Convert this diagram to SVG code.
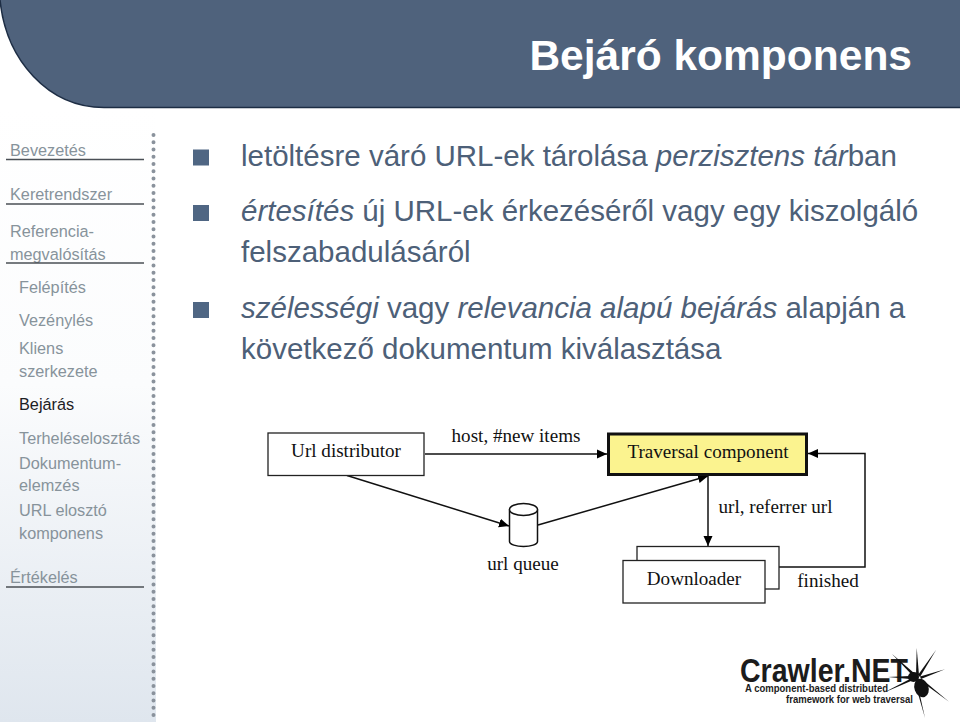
<svg xmlns="http://www.w3.org/2000/svg" width="960" height="722" viewBox="0 0 960 722">
<defs>
<marker id="ah" markerUnits="userSpaceOnUse" markerWidth="12" markerHeight="12" refX="10" refY="5" orient="auto"><path d="M0,0.500L10,5L0,9.500Z" fill="#000"/></marker>
<linearGradient id="side" x1="0" y1="0" x2="0" y2="1"><stop offset="0" stop-color="#fff"/><stop offset="0.45" stop-color="#fbfcfd"/><stop offset="1" stop-color="#dfe6ee"/></linearGradient>
</defs>
<style>
.nav{font-family:"Liberation Sans",Arial,sans-serif;font-size:16.25px;fill:#87939b}
.cur{fill:#1c2024}
.body{font-family:"Liberation Sans",Arial,sans-serif;font-size:29.5px;fill:#4d6078}
.it{font-style:italic}
.lab{font-family:"Liberation Serif","Times New Roman",serif;font-size:19.1px;fill:#111}
.box{fill:#fff;stroke:#222;stroke-width:1.3}
.con{fill:none;stroke:#111;stroke-width:1.5}
.rule{stroke:#4a4f55;stroke-width:1.3}
.bul{fill:#4f6683}
.lg{font-family:"Liberation Sans",Arial,sans-serif;font-weight:bold;fill:#1c1c1c}
</style>
<rect width="960" height="722" fill="#fff"/>
<rect x="0" y="108" width="156" height="614" fill="url(#side)"/>
<path id="header" d="M0,0H960V107.500H104C48,107.500 6,60 0,0Z" fill="#4f627c"/>
<path d="M0,0C6,60 48,107.500 104,107.500H960" fill="none" stroke="#1d2d44" stroke-width="1.500"/>
<text x="912" y="70" text-anchor="end" font-family="Liberation Sans,Arial,sans-serif" font-weight="bold" font-size="42.5px" fill="#fff">Bejáró komponens</text>
<line x1="153.500" y1="135" x2="153.500" y2="720" stroke="#8a929c" stroke-width="4" stroke-linecap="round" stroke-dasharray="0 7.250"/>
<g id="nav">
<text class="nav" x="10" y="156">Bevezetés</text><line class="rule" x1="6" y1="159.500" x2="144" y2="159.500"/>
<text class="nav" x="10" y="200">Keretrendszer</text><line class="rule" x1="6" y1="204" x2="144" y2="204"/>
<text class="nav" x="10" y="237">Referencia-</text><text class="nav" x="10" y="260">megvalósítás</text><line class="rule" x1="6" y1="263" x2="144" y2="263"/>
<text class="nav" x="19" y="293">Felépítés</text>
<text class="nav" x="19" y="326">Vezénylés</text>
<text class="nav" x="19" y="354">Kliens</text><text class="nav" x="19" y="377">szerkezete</text>
<text class="nav cur" x="19" y="410">Bejárás</text>
<text class="nav" x="19" y="444">Terheléselosztás</text>
<text class="nav" x="19" y="469">Dokumentum-</text><text class="nav" x="19" y="491">elemzés</text>
<text class="nav" x="19" y="516">URL elosztó</text><text class="nav" x="19" y="539">komponens</text>
<text class="nav" x="10" y="583">Értékelés</text><line class="rule" x1="6" y1="587" x2="144" y2="587"/>
</g>
<g id="bullets">
<rect class="bul" x="193" y="149.500" width="16" height="16"/>
<rect class="bul" x="193" y="205" width="16" height="16"/>
<rect class="bul" x="193" y="302" width="16" height="16"/>
<text class="body" x="241" y="166">letöltésre váró URL-ek tárolása <tspan class="it">perzisztens tár</tspan>ban</text>
<text class="body" x="241" y="221"><tspan class="it">értesítés</tspan> új URL-ek érkezéséről vagy egy kiszolgáló</text>
<text class="body" x="241" y="262">felszabadulásáról</text>
<text class="body" x="241" y="318"><tspan class="it">szélességi</tspan> vagy <tspan class="it">relevancia alapú bejárás</tspan> alapján a</text>
<text class="body" x="241" y="359">következő dokumentum kiválasztása</text>
</g>
<g id="connectors">
<path class="con" d="M425,454H607" marker-end="url(#ah)"/>
<path class="con" d="M347,475.500L509,526" marker-end="url(#ah)"/>
<path class="con" d="M538,525L708,476" marker-end="url(#ah)"/>
<path class="con" d="M708,476V546" marker-end="url(#ah)"/>
<path class="con" d="M779,567H865V453.500H808" marker-end="url(#ah)"/>
</g>
<g id="url-distributor"><rect class="box" x="268" y="433" width="156" height="42.500"/><text class="lab" x="346" y="457" text-anchor="middle">Url distributor</text></g>
<g id="traversal"><rect x="608.500" y="434" width="198" height="40.500" fill="#fbf38f" stroke="#111" stroke-width="3"/><text class="lab" x="708" y="458" text-anchor="middle">Traversal component</text></g>
<g id="queue"><path d="M509.500,509.500V541.500C509.500,548 537.500,548 537.500,541.500V509.500" fill="#fff" stroke="#111" stroke-width="1.500"/><ellipse cx="523.500" cy="509.500" rx="14" ry="6" fill="#fff" stroke="#111" stroke-width="1.500"/><text class="lab" x="523" y="570" text-anchor="middle">url queue</text></g>
<g id="downloader"><rect class="box" x="637" y="546.500" width="142" height="42.500"/><rect class="box" x="623" y="560.500" width="142" height="42.500"/><text class="lab" x="694" y="585" text-anchor="middle">Downloader</text></g>
<g id="labels">
<text class="lab" x="516" y="442" text-anchor="middle">host, #new items</text>
<text class="lab" x="775.500" y="513" text-anchor="middle">url, referrer url</text>
<text class="lab" x="828" y="587" text-anchor="middle">finished</text>
</g>
<g id="logo">
<text class="lg" x="740" y="682" font-size="34px" textLength="168" lengthAdjust="spacingAndGlyphs">Crawler.NET</text>
<text class="lg" x="745" y="692" font-size="11.500px" textLength="143" lengthAdjust="spacingAndGlyphs">A component-based distributed</text>
<text class="lg" x="786" y="703" font-size="11.500px" textLength="127" lengthAdjust="spacingAndGlyphs">framework for web traversal</text>
<g fill="#111">
<path d="M912,675L892,654L914,673Z"/>
<path d="M916,676L916.700,648L919,675Z"/>
<path d="M918,675L936,650L920,677Z"/>
<path d="M920,676.500L945,669.300L921,679Z"/>
<path d="M923,680L949,701.700L922,682Z"/>
<path d="M915,683L925,718L917,682Z"/>
<path d="M910,676L888,677L910,679Z"/>
<path d="M910,679L883,693L911,681Z"/>
<ellipse cx="913.500" cy="677" rx="5.500" ry="5"/>
<ellipse cx="921.500" cy="688" rx="7" ry="9.500" transform="rotate(-20 921.500 688)"/>
</g>
</g>
</svg>
